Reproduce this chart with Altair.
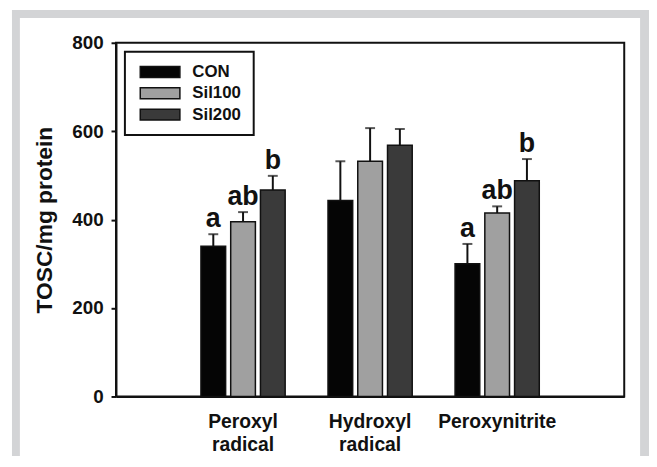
import altair as alt
import pandas as pd

categories = ["Peroxyl radical", "Hydroxyl radical", "Peroxynitrite"]
groups = ["CON", "Sil100", "Sil200"]
colors = ["#050505", "#a0a0a0", "#3a3a3a"]

con_vals = [340, 443, 300]
sil100_vals = [395, 532, 415]
sil200_vals = [467, 568, 488]

con_err = [27, 89, 45]
sil100_err = [22, 75, 15]
sil200_err = [32, 37, 49]

con_letters = ["a", "", "a"]
sil100_letters = ["ab", "", "ab"]
sil200_letters = ["b", "", "b"]

rows = []
for g, vals, errs, lets in [("CON", con_vals, con_err, con_letters),
                            ("Sil100", sil100_vals, sil100_err, sil100_letters),
                            ("Sil200", sil200_vals, sil200_err, sil200_letters)]:
    for c, v, e, l in zip(categories, vals, errs, lets):
        rows.append({"category": c, "group": g, "value": v, "top": v + e, "letter": l})
df = pd.DataFrame(rows)

FONT = "Liberation Sans"
W, H = 513, 357

x_enc = alt.X("category:N", sort=categories,
              scale=alt.Scale(paddingInner=0, paddingOuter=0.5),
              axis=alt.Axis(title=None, labelExpr="split(datum.label, ' ')",
                            labelAngle=0, labelFont=FONT, labelFontSize=19.5,
                            labelFontWeight="bold", labelColor="#111",
                            labelLineHeight=23.5, labelPadding=16, ticks=False,
                            domainColor="#111", domainWidth=2))
xo_enc = alt.XOffset("group:N", sort=groups,
                     scale=alt.Scale(paddingInner=0.17, paddingOuter=0.72))
y_scale = alt.Scale(domain=[0, 800], nice=False)

base = alt.Chart(df)

bars = base.mark_bar(stroke="#111", strokeWidth=1.5).encode(
    x=x_enc,
    xOffset=xo_enc,
    y=alt.Y("value:Q", scale=y_scale,
            axis=alt.Axis(title="TOSC/mg protein", values=[0, 200, 400, 600, 800],
                          grid=False, labelFont=FONT, labelFontSize=19,
                          labelFontWeight="bold", labelColor="#111",
                          labelPadding=8, tickSize=5, tickWidth=2, tickColor="#111",
                          domainColor="#111", domainWidth=2,
                          titleFont=FONT, titleFontSize=23, titleFontWeight="bold",
                          titleColor="#111", titlePadding=15)),
    color=alt.Color("group:N", sort=groups,
                    scale=alt.Scale(domain=groups, range=colors),
                    legend=alt.Legend(title=None, orient="none", legendX=9, legendY=9,
                                      fillColor="white", strokeColor="#111",
                                      padding=12, rowPadding=3.5,
                                      symbolType="M-1,-1.1H7V1.1H-1Z",
                                      symbolSize=100, symbolStrokeColor="#111",
                                      symbolStrokeWidth=1.5, symbolOpacity=1,
                                      labelFont=FONT, labelFontSize=17,
                                      labelFontWeight="bold", labelColor="#111",
                                      labelOffset=39)),
)

err = base.mark_rule(color="#111", strokeWidth=2).encode(
    x=x_enc, xOffset=xo_enc, y=alt.Y("value:Q", scale=y_scale), y2="top:Q")

caps = base.mark_tick(color="#111", thickness=2, size=10).encode(
    x=x_enc, xOffset=xo_enc, y=alt.Y("top:Q", scale=y_scale))

letters = base.mark_text(dy=-7, baseline="alphabetic", font=FONT, fontSize=27,
                         fontWeight="bold", color="#111").encode(
    x=x_enc, xOffset=xo_enc, y=alt.Y("top:Q", scale=y_scale), text="letter:N")

one = pd.DataFrame({"d": [0]})
FRAME = "#d3d4d6"
left_band = alt.Chart(one).mark_rect(color=FRAME).encode(
    x=alt.value(-105), x2=alt.value(-97), y=alt.value(-33), y2=alt.value(417))
right_band = alt.Chart(one).mark_rect(color=FRAME).encode(
    x=alt.value(529), x2=alt.value(538), y=alt.value(-33), y2=alt.value(417))
top_band = alt.Chart(one).mark_rect(color=FRAME).encode(
    x=alt.value(-105), x2=alt.value(538), y=alt.value(-33), y2=alt.value(-25))

chart = alt.layer(left_band, right_band, top_band, bars, err, caps, letters).properties(
    width=W, height=H,
    autosize=alt.AutoSizeParams(type="none"),
    padding={"left": 109, "top": 33, "right": 25, "bottom": 60},
).configure_view(stroke="#111", strokeWidth=2).configure_legend(strokeWidth=2)

chart.save("out.html", embed_options={"renderer": "svg", "actions": False})
